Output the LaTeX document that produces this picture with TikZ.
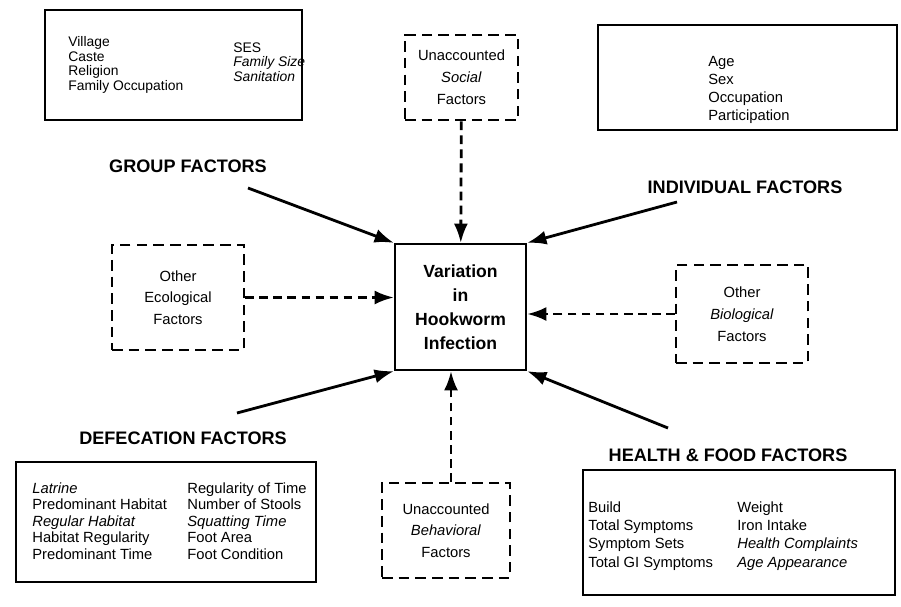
\documentclass[tikz,border=0pt]{standalone}
\usepackage{fontspec}
\setmainfont{Liberation Sans}
\usepackage{tikz}
\usetikzlibrary{arrows.meta,positioning,calc}

\begin{document}
\begin{tikzpicture}[
    x=0.02cm, y=-0.02cm,
    solidbox/.style={rectangle, draw, line width=1.3pt, inner sep=0pt},
    dashbox/.style={rectangle, draw, line width=1.5pt, dash pattern=on 6pt off 3.5pt, align=center, font=\fontsize{8.4}{12.4}\selectfont, inner sep=0pt},
    items/.style={align=left, anchor=west, inner sep=0pt},
    heading/.style={font=\bfseries\fontsize{10.3}{12}\selectfont},
    arrow/.style={-{Latex[length=11pt,width=8pt]}, line width=1.6pt},
    dasharrow/.style={arrow, dash pattern=on 5pt off 3pt}
]
    \useasboundingbox (0,0) rectangle (901,606);

    % boxes
    \node[solidbox, minimum width=5.14cm, minimum height=2.2cm] (grpbox) at (173.5,65) {};
    \node[dashbox, minimum width=2.26cm, minimum height=1.7cm] (socbox) at (461.5,77.5) {Unaccounted\\\textit{Social}\\Factors};
    \node[solidbox, minimum width=5.98cm, minimum height=2.1cm] (indbox) at (747.5,77.5) {};
    \node[solidbox, minimum width=2.62cm, minimum height=2.52cm, align=center, font=\bfseries\fontsize{10}{13.6}\selectfont] (ctrbox) at (460.5,307) {Variation\\in\\Hookworm\\Infection};
    \node[dashbox, minimum width=2.64cm, minimum height=2.1cm] (ecobox) at (178,297.5) {Other\\Ecological\\Factors};
    \node[dashbox, minimum width=2.64cm, minimum height=1.96cm] (biobox) at (742,314) {Other\\\textit{Biological}\\Factors};
    \node[solidbox, minimum width=6.0cm, minimum height=2.4cm] (defbox) at (166,522) {};
    \node[dashbox, minimum width=2.56cm, minimum height=1.9cm] (behbox) at (446,530.5) {Unaccounted\\\textit{Behavioral}\\Factors};
    \node[solidbox, minimum width=6.24cm, minimum height=2.5cm] (hltbox) at (739,532.5) {};

    % factor lists
    \node[items, font=\fontsize{7.9}{8.4}\selectfont] (grpA) at (68,65) {Village\\Caste\\Religion\\Family Occupation};
    \node[items, font=\fontsize{7.9}{8.4}\selectfont] (grpB) at (233,62) {SES\\\textit{Family Size}\\\textit{Sanitation}};
    \node[items, font=\fontsize{8.4}{10.2}\selectfont] (indA) at (708,90) {Age\\Sex\\Occupation\\Participation};
    \node[items, font=\fontsize{8.4}{9.4}\selectfont] (defA) at (32,521) {\textit{Latrine}\\Predominant Habitat\\\textit{Regular Habitat}\\Habitat Regularity\\Predominant Time};
    \node[items, font=\fontsize{8.4}{9.4}\selectfont] (defB) at (187,521) {Regularity of Time\\Number of Stools\\\textit{Squatting Time}\\Foot Area\\Foot Condition};
    \node[items, font=\fontsize{8.4}{10.4}\selectfont] (hltA) at (588,536) {Build\\Total Symptoms\\Symptom Sets\\Total GI Symptoms};
    \node[items, font=\fontsize{8.4}{10.4}\selectfont] (hltB) at (737,536) {Weight\\Iron Intake\\\textit{Health Complaints}\\\textit{Age Appearance}};

    % headings
    \node[heading] (grplab) at (188,166) {GROUP FACTORS};
    \node[heading] (indlab) at (745,187) {INDIVIDUAL FACTORS};
    \node[heading] (deflab) at (183,438) {DEFECATION FACTORS};
    \node[heading] (hltlab) at (728,455) {HEALTH \& FOOD FACTORS};

    \coordinate (grptail) at (248,188);
    \coordinate (indtail) at (677,202);
    \coordinate (deftail) at (237,413);
    \coordinate (hlttail) at (668,428);

    \draw[arrow] (grptail) -- (ctrbox.north west);
    \draw[arrow] (indtail) -- (ctrbox.north east);
    \draw[arrow] (deftail) -- (ctrbox.south west);
    \draw[arrow] (hlttail) -- (ctrbox.south east);

    \draw[dasharrow] (socbox) -- (ctrbox);
    \draw[dasharrow] (ecobox.east) -- (ecobox.east -| ctrbox.west);
    \draw[dasharrow] (biobox.west) -- (biobox.west -| ctrbox.east);
    \draw[dasharrow] ([xshift=0.1cm]behbox.north) -- ([xshift=0.1cm]behbox.north |- ctrbox.south);
\end{tikzpicture}
\end{document}
